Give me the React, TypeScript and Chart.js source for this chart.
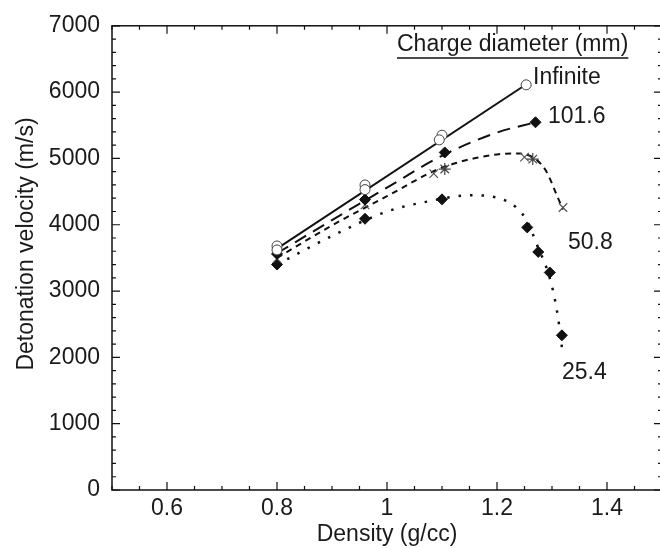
import React, { useEffect, useRef } from 'react';
import { Chart, registerables } from 'chart.js';

Chart.register(...registerables);

// ---- axis ticks ----
const xTickValues = [0.6, 0.8, 1.0, 1.2, 1.4];
const yTickValues = [0, 1000, 2000, 3000, 4000, 5000, 6000, 7000];

// ---- Infinite diameter (open circles, solid fitted line) ----
const infFitX = [0.8, 1.25];
const infFitY = [3640, 6100];
const infX = [0.8, 0.8, 0.96, 0.96, 1.1, 1.095, 1.253];
const infY = [3680, 3620, 4600, 4530, 5350, 5280, 6110];

// ---- 101.6 mm (filled diamonds, long dashes) ----
const d1016CurveX = [0.8, 0.9, 1.0, 1.1, 1.2, 1.27];
const d1016CurveY = [3570, 4070, 4560, 5040, 5390, 5545];
const d1016X = [0.8, 0.96, 1.105, 1.27];
const d1016Y = [3560, 4380, 5090, 5545];

// ---- 50.8 mm (crosses / asterisks, short dashes) ----
const d508CurveX = [0.8, 0.9, 1.0, 1.1, 1.2, 1.24, 1.27, 1.29, 1.31, 1.32];
const d508CurveY = [3500, 3990, 4430, 4860, 5060, 5075, 4990, 4800, 4420, 4230];
const d508CrossX = [0.8, 0.96, 1.085, 1.25, 1.32];
const d508CrossY = [3490, 4300, 4770, 5020, 4260];
const d508StarX = [1.105, 1.265];
const d508StarY = [4840, 4990];

// ---- 25.4 mm (filled diamonds, dotted) ----
const d254CurveX = [0.8, 0.9, 1.0, 1.08, 1.15, 1.2, 1.235, 1.255, 1.275, 1.29, 1.302, 1.311, 1.318];
const d254CurveY = [3400, 3830, 4200, 4360, 4445, 4410, 4260, 4050, 3650, 3350, 3000, 2600, 2150];
const d254X = [0.8, 0.96, 1.1, 1.255, 1.275, 1.296, 1.318];
const d254Y = [3400, 4090, 4383, 3960, 3590, 3280, 2333];

// ---- texts ----
const xTitle = 'Density (g/cc)';
const yTitle = 'Detonation velocity (m/s)';
const legendTitle = 'Charge diameter (mm)';
const seriesLabels = ['Infinite', '101.6', '50.8', '25.4'];

const FONT = '"Liberation Sans", Arial, Helvetica, sans-serif';
const FS = 23;

const pts = (xs: number[], ys: number[]) => xs.map((x, i) => ({ x, y: ys[i] }));

const framePlugin = {
  id: 'frameAndText',
  afterDraw(chart: any) {
    const { ctx, chartArea } = chart;
    const xs = chart.scales.x;
    const ys = chart.scales.y;
    const { left, right, top, bottom } = chartArea;
    ctx.save();
    ctx.strokeStyle = '#111';
    ctx.lineWidth = 1.5;
    ctx.strokeRect(left, top, right - left, bottom - top);
    ctx.lineWidth = 1.2;
    // x ticks (inside), bottom and top
    for (let k = 0; k <= 20; k++) {
      const v = 0.5 + k * 0.05;
      const major = xTickValues.some((t) => Math.abs(t - v) < 1e-6);
      const len = major ? 8 : 4;
      const px = xs.getPixelForValue(v);
      ctx.beginPath();
      ctx.moveTo(px, bottom);
      ctx.lineTo(px, bottom - len);
      ctx.moveTo(px, top);
      ctx.lineTo(px, top + len);
      ctx.stroke();
    }
    // y ticks (inside), left and right
    for (let v = 0; v <= 7000; v += 200) {
      const major = v % 1000 === 0;
      const len = major ? 8 : 4;
      const py = ys.getPixelForValue(v);
      ctx.beginPath();
      ctx.moveTo(left, py);
      ctx.lineTo(left + len, py);
      ctx.moveTo(right, py);
      ctx.lineTo(right - len, py);
      ctx.stroke();
    }
    // y title
    ctx.fillStyle = '#1a1a1a';
    ctx.font = `${FS}px ${FONT}`;
    ctx.save();
    ctx.translate(27, 244);
    ctx.rotate(-Math.PI / 2);
    ctx.textAlign = 'center';
    ctx.textBaseline = 'middle';
    ctx.fillText(yTitle, 0, 0);
    ctx.restore();
    // legend heading + series labels
    ctx.textAlign = 'left';
    ctx.textBaseline = 'middle';
    ctx.fillText(legendTitle, 397, 45);
    const w = ctx.measureText(legendTitle).width;
    ctx.lineWidth = 1.5;
    ctx.beginPath();
    ctx.moveTo(397, 58);
    ctx.lineTo(397 + w, 58);
    ctx.stroke();
    const labelPos = [
      [533, 78],
      [548, 117],
      [568, 243],
      [562, 373],
    ];
    seriesLabels.forEach((s, i) => ctx.fillText(s, labelPos[i][0], labelPos[i][1]));
    ctx.restore();
  },
};

export default function App() {
  const ref = useRef<HTMLCanvasElement | null>(null);
  useEffect(() => {
    if (!ref.current) return;
    const lineBase = { showLine: true, pointRadius: 0, borderColor: '#111', borderWidth: 2, fill: false, cubicInterpolationMode: 'monotone' as const, order: 2 };
    const markBase = { showLine: false, order: 1 };
    const chart = new Chart(ref.current, {
      type: 'scatter',
      data: {
        datasets: [
          { ...lineBase, data: pts(infFitX, infFitY), borderWidth: 2 },
          { ...lineBase, data: pts(d1016CurveX, d1016CurveY), borderDash: [13, 8] },
          { ...lineBase, data: pts(d508CurveX, d508CurveY), borderDash: [6, 5] },
          { ...lineBase, data: pts(d254CurveX, d254CurveY), borderDash: [2.5, 9], borderWidth: 2.5 },
          { ...markBase, data: pts(infX, infY), pointStyle: 'circle', pointRadius: 5, backgroundColor: '#fff', borderColor: '#444', borderWidth: 1 },
          { ...markBase, data: pts(d1016X, d1016Y), pointStyle: 'rectRot', pointRadius: 5.5, backgroundColor: '#111', borderColor: '#111', borderWidth: 1 },
          { ...markBase, data: pts(d508CrossX, d508CrossY), pointStyle: 'crossRot', pointRadius: 6, borderColor: '#555', borderWidth: 1.2 },
          { ...markBase, data: pts(d508StarX, d508StarY), pointStyle: 'star', pointRadius: 6, borderColor: '#444', borderWidth: 1.2 },
          { ...markBase, data: pts(d254X, d254Y), pointStyle: 'rectRot', pointRadius: 5.5, backgroundColor: '#111', borderColor: '#111', borderWidth: 1 },
        ],
      },
      options: {
        responsive: false,
        animation: false,
        events: [],
        layout: { padding: { left: 0, right: 10, top: 19, bottom: 0 } },
        plugins: { legend: { display: false }, tooltip: { enabled: false } },
        scales: {
          x: {
            type: 'linear',
            min: 0.5,
            max: 1.5,
            grid: { display: false, drawTicks: false },
            border: { display: false },
            afterBuildTicks: (s: any) => {
              s.ticks = xTickValues.map((v) => ({ value: v }));
            },
            afterFit: (s: any) => {
              s.height = 58;
            },
            ticks: {
              padding: 5,
              autoSkip: false,
              maxRotation: 0,
              color: '#1a1a1a',
              font: { family: FONT, size: FS },
              callback: (v: any) => String(Math.round(Number(v) * 10) / 10),
            },
            title: { display: true, text: xTitle, color: '#1a1a1a', font: { family: FONT, size: FS }, padding: { top: 0, bottom: 0 } },
          },
          y: {
            type: 'linear',
            min: 0,
            max: 7000,
            grid: { display: false, drawTicks: false },
            border: { display: false },
            afterBuildTicks: (s: any) => {
              s.ticks = yTickValues.map((v) => ({ value: v }));
            },
            afterFit: (s: any) => {
              s.width = 112;
            },
            ticks: {
              padding: 12,
              color: '#1a1a1a',
              font: { family: FONT, size: FS },
              callback: (v: any) => String(v),
            },
          },
        },
      },
      plugins: [framePlugin],
    });
    return () => chart.destroy();
  }, []);
  return (
    <div style={{ position: 'fixed', left: 0, top: 0, width: 660, height: 548, overflow: 'hidden', background: '#fff' }}>
      <canvas ref={ref} width={672} height={548} style={{ display: 'block', width: 672, height: 548 }} />
    </div>
  );
}
